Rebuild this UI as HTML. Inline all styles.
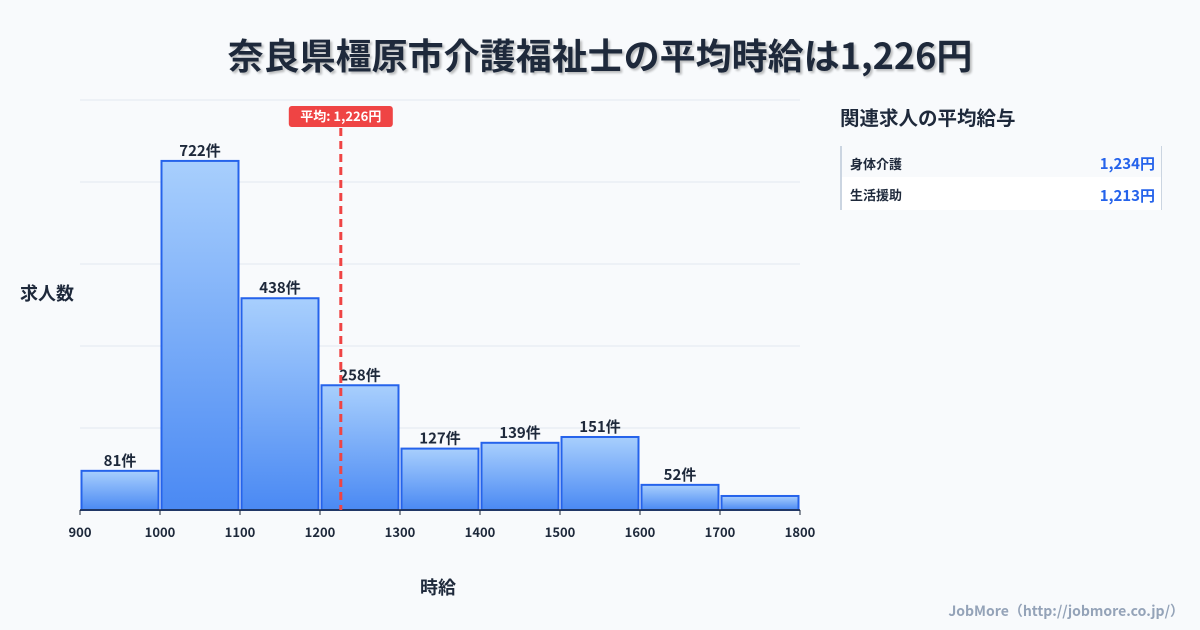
<!DOCTYPE html>
<html><head><meta charset="utf-8"><style>
body{margin:0;background:#f8fafc;font-family:"Liberation Sans","Noto Sans CJK JP",sans-serif;}
#wrap{position:relative;width:1200px;height:630px;overflow:hidden;background:#f8fafc;}
.t{position:absolute;white-space:nowrap;}
</style></head><body>
<div id="wrap">
<div class="t" style="left:0;width:1200px;top:28px;text-align:center;font-size:36px;font-weight:bold;color:#1e293b;text-shadow:2px 2px 2px rgba(0,0,0,0.25);font-family:'Noto Sans CJK JP',sans-serif;">奈良県橿原市介護福祉士の平均時給は1,226円</div>
<div class="t" style="left:20px;top:280px;font-size:18px;font-weight:bold;color:#1e293b;font-family:'Noto Sans CJK JP',sans-serif;">求人数</div>
<div class="t" style="left:420px;top:574px;font-size:18px;font-weight:bold;color:#1e293b;font-family:'Noto Sans CJK JP',sans-serif;">時給</div>
<div class="t" style="left:840px;top:102px;font-size:19.5px;font-weight:bold;color:#1e293b;font-family:'Noto Sans CJK JP',sans-serif;">関連求人の平均給与</div>
<div style="position:absolute;left:840px;top:146px;width:319px;height:64px;border-left:2px solid #cbd5e1;border-right:1px solid #cbd5e1;">
 <div style="position:relative;height:31px;font-family:'Noto Sans CJK JP',sans-serif;">
  <span class="t" style="left:8px;top:8px;font-size:13px;font-weight:bold;color:#1e293b;">身体介護</span>
  <span class="t" style="right:6px;top:7px;font-size:15px;font-weight:bold;color:#2563eb;">1,234円</span></div>
 <div style="position:relative;height:33px;background:#fff;font-family:'Noto Sans CJK JP',sans-serif;">
  <span class="t" style="left:8px;top:8px;font-size:13px;font-weight:bold;color:#1e293b;">生活援助</span>
  <span class="t" style="right:6px;top:8px;font-size:15px;font-weight:bold;color:#2563eb;">1,213円</span></div>
</div>
<div class="t" style="right:16px;top:601px;font-size:14px;font-weight:bold;color:#94a3b8;font-family:'Noto Sans CJK JP',sans-serif;">JobMore（http://jobmore.co.jp/）</div>
<svg id="chart" width="1200" height="630" style="position:absolute;left:0;top:0">
<defs><linearGradient id="g" x1="0" y1="0" x2="0" y2="1"><stop offset="0" stop-color="#a8cffd"/><stop offset="1" stop-color="#4a89f3"/></linearGradient></defs>
</svg>
</div>
<script>
const binStarts=[900,1000,1100,1200,1300,1400,1500,1600,1700];
const counts=[81,722,438,258,127,139,151,52,29];
const labels=["81件","722件","438件","258件","127件","139件","151件","52件",""];
const xTicks=[900,1000,1100,1200,1300,1400,1500,1600,1700,1800];
const meanValue=1226;
const meanLabel="平均: 1,226円";
const X0=80,X1=800,Y0=510,YT=100,XMIN=900,XMAX=1800,YMAX=848;
const FONT="Noto Sans CJK JP,sans-serif";
const x=v=>X0+(v-XMIN)/(XMAX-XMIN)*(X1-X0);
const y=v=>Y0-v/YMAX*(Y0-YT);
const svg=document.getElementById('chart');
const NS='http://www.w3.org/2000/svg';
function mk(t,a){const e=document.createElementNS(NS,t);for(const k in a)e.setAttribute(k,a[k]);svg.appendChild(e);return e;}
for(let i=0;i<=5;i++){const gy=Y0-i*(Y0-YT)/5;const l=mk('line',{x1:X0,x2:X1,y1:gy,y2:gy,stroke:'#e2e8f0','stroke-width':1});

}
binStarts.forEach((b,i)=>{const x0=x(b)+1.5,x1=x(b+100)-1.5,top=y(counts[i]);
const r=mk('rect',{x:x0,y:top,width:x1-x0,height:Y0-top,fill:'url(#g)',stroke:'#2563eb','stroke-width':2});


if(labels[i]){const t=mk('text',{x:(x0+x1)/2,y:top-5,'text-anchor':'middle','font-size':15,'font-weight':'bold',fill:'#1e293b','font-family':FONT});t.textContent=labels[i];

}});
const ax=mk('line',{x1:X0,x2:X1,y1:Y0,y2:Y0,stroke:'#1e293b','stroke-width':1.5});


xTicks.forEach(v=>{const tk=mk('line',{x1:x(v),x2:x(v),y1:Y0,y2:Y0+5,stroke:'#1e293b','stroke-width':1});


const t=mk('text',{x:x(v),y:Y0+27,'text-anchor':'middle','font-size':13,'font-weight':'bold',fill:'#1e293b','font-family':FONT});t.textContent=v;

});
const mx=x(meanValue);
const ml=mk('line',{x1:mx,x2:mx,y1:128,y2:Y0,stroke:'#ef4444','stroke-width':3,'stroke-dasharray':'8,5'});


const mb=mk('rect',{x:mx-52,y:106,width:104,height:21,rx:3,fill:'#ef4444'});


const mt=mk('text',{x:mx,y:121,'text-anchor':'middle','font-size':13,'font-weight':'bold',fill:'#fff','font-family':FONT});mt.textContent=meanLabel;


</script>
</body></html>
